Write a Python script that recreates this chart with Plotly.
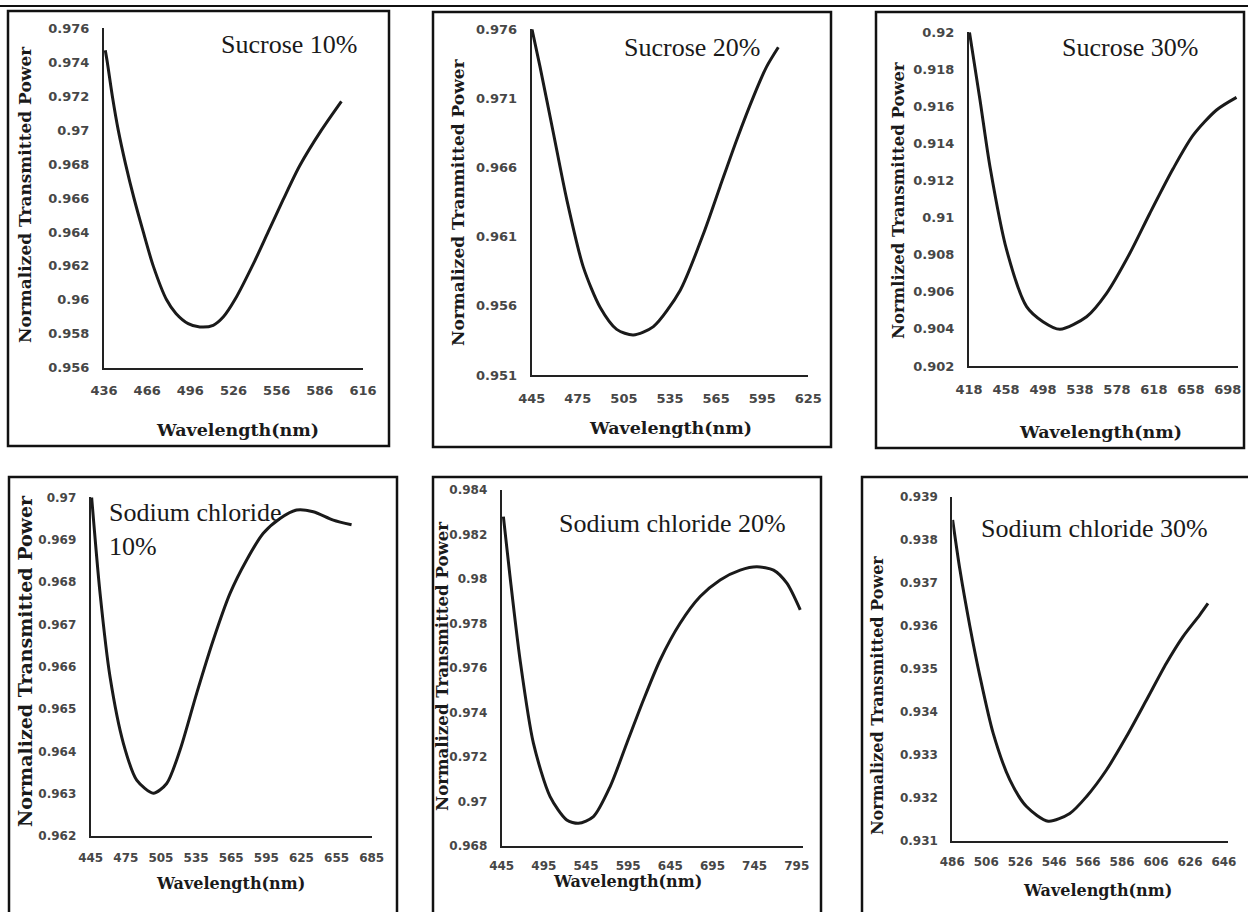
import plotly.graph_objects as go

W, H = 1248, 912

# ---------------- data ----------------
s10_wl = [436.9, 438.3, 441.8, 445.9, 451.0, 456.8, 463.3, 470.2, 479.5, 486.0, 494.5,
          502.6, 511.9, 519.0, 526.9, 540.8, 550.1, 560.5, 572.0, 587.1, 601.0]
s10_tp = [0.9747, 0.9740, 0.9720, 0.9700, 0.9680, 0.9660, 0.9640, 0.9620, 0.9600, 0.9592, 0.9586,
          0.9584, 0.9585, 0.9590, 0.9600, 0.9623, 0.9640, 0.9659, 0.9679, 0.9700, 0.9717]

s20_wl = [445.0, 450.4, 459.1, 467.8, 478.6, 489.5, 500.3, 511.1, 524.2, 541.5, 556.7,
          567.5, 578.4, 589.2, 597.9, 605.5]
s20_tp = [0.9761, 0.9733, 0.9685, 0.9637, 0.9588, 0.9559, 0.9543, 0.9539, 0.9545, 0.9571, 0.9612,
          0.9646, 0.9680, 0.9711, 0.9733, 0.9747]

s30_wl = [418.5, 429.9, 440.7, 458.7, 480.3, 498.0, 516.4, 545.2, 566.8, 592.0, 613.7,
          638.9, 660.5, 685.8, 707.4]
s30_tp = [0.9200, 0.91635, 0.91275, 0.90826, 0.90520, 0.90439, 0.90398, 0.90466, 0.90592, 0.90808,
          0.91024, 0.91265, 0.91445, 0.91581, 0.91649]

n10_wl = [445.8, 453.0, 461.5, 472.9, 484.3, 498.5, 509.9, 521.3, 535.5, 549.7, 564.0,
          578.2, 592.4, 606.7, 620.9, 635.1, 652.2, 667.8]
n10_tp = [0.9700, 0.96773, 0.96576, 0.96419, 0.96332, 0.96301, 0.96324, 0.96403, 0.96537, 0.96663,
          0.96773, 0.96852, 0.96915, 0.96950, 0.96970, 0.96966, 0.96946, 0.96935]

n20_wl = [447.0, 454.9, 466.8, 482.6, 502.4, 522.1, 536.0, 553.8, 573.6, 593.4, 613.1,
          632.9, 656.6, 680.4, 704.1, 727.9, 747.6, 767.4, 783.2, 799.1]
n20_tp = [0.9828, 0.9801, 0.97636, 0.97262, 0.97022, 0.96917, 0.96902, 0.96932, 0.97067, 0.97262,
          0.97456, 0.97636, 0.97801, 0.97921, 0.97996, 0.98040, 0.98055, 0.98040, 0.97981, 0.97861]

n30_wl = [486.2, 490.5, 496.4, 502.3, 510.1, 519.9, 529.7, 542.5, 555.2, 565.0, 576.8,
          588.5, 600.3, 612.1, 621.9, 631.7, 636.6]
n30_tp = [0.93846, 0.93730, 0.93598, 0.93482, 0.93350, 0.93242, 0.93180, 0.93146, 0.93164, 0.93203,
          0.93265, 0.93342, 0.93427, 0.93513, 0.93575, 0.93625, 0.93652]

# tick labels
s10_xt = [436, 466, 496, 526, 556, 586, 616]
s10_yt = ["0.956", "0.958", "0.96", "0.962", "0.964", "0.966", "0.968", "0.97", "0.972", "0.974", "0.976"]
s20_xt = [445, 475, 505, 535, 565, 595, 625]
s20_yt = ["0.951", "0.956", "0.961", "0.966", "0.971", "0.976"]
s30_xt = [418, 458, 498, 538, 578, 618, 658, 698]
s30_yt = ["0.902", "0.904", "0.906", "0.908", "0.91", "0.912", "0.914", "0.916", "0.918", "0.92"]
n10_xt = [445, 475, 505, 535, 565, 595, 625, 655, 685]
n10_yt = ["0.962", "0.963", "0.964", "0.965", "0.966", "0.967", "0.968", "0.969", "0.97"]
n20_xt = [445, 495, 545, 595, 645, 695, 745, 795]
n20_yt = ["0.968", "0.97", "0.972", "0.974", "0.976", "0.978", "0.98", "0.982", "0.984"]
n30_xt = [486, 506, 526, 546, 566, 586, 606, 626, 646]
n30_yt = ["0.931", "0.932", "0.933", "0.934", "0.935", "0.936", "0.937", "0.938", "0.939"]

labels = ["Sucrose 10%", "Sucrose 20%", "Sucrose 30%",
          "Sodium chloride<br>10%", "Sodium chloride 20%", "Sodium chloride 30%"]
ytitles = ["Normalized Transmitted Power", "Normalized Tranmitted Power", "Normlized Transmitted Power",
           "Normalized Transmitted Power", "Normalized Transmitted Power", "Normalized Transmitted Power"]
xtitle = "Wavelength(nm)"

# ---------------- layout spec (pixels) ----------------
panels = [
    dict(wl=s10_wl, tp=s10_tp, xt=s10_xt, yt=s10_yt, xpx=(104, 363), xr=(436, 616), ypx=(28.3, 367.7),
         box=(8, 11, 389, 446), lab=(289, 45, "center"), yti=(25, 195, 17), xti=(237, 430, 17.5), tf=13, so=10),
    dict(wl=s20_wl, tp=s20_tp, xt=s20_xt, yt=s20_yt, xpx=(531.7, 808.3), xr=(445, 625), ypx=(29.3, 375),
         box=(433, 12, 831, 447), lab=(692, 47, "center"), yti=(458, 202, 17), xti=(670, 428, 17.5), tf=13, so=10),
    dict(wl=s30_wl, tp=s30_tp, xt=s30_xt, yt=s30_yt, xpx=(969, 1238), xr=(418, 709), ypx=(32.3, 366),
         box=(876, 12, 1244, 448), lab=(1130, 48, "center"), yti=(898, 201, 16.5), xti=(1100, 432, 17.5), tf=13, so=10),
    dict(wl=n10_wl, tp=n10_tp, xt=n10_xt, yt=n10_yt, xpx=(90.7, 371.7), xr=(445, 685), ypx=(497.3, 836),
         box=(9, 477, 397, 916), lab=(107, 529, "left"), yti=(25, 661, 19), xti=(230, 883, 16), tf=12, so=10),
    dict(wl=n20_wl, tp=n20_tp, xt=n20_xt, yt=n20_yt, xpx=(501.7, 802.7), xr=(445, 802), ypx=(490, 846),
         box=(433, 477, 821, 916), lab=(672, 523, "center"), yti=(442, 667, 16.6), xti=(627, 881, 16), tf=12, so=8),
    dict(wl=n30_wl, tp=n30_tp, xt=n30_xt, yt=n30_yt, xpx=(952.3, 1228), xr=(486, 648.4), ypx=(496.7, 841),
         box=(862, 477, 1254, 916), lab=(1094, 528, "center"), yti=(877, 695, 16), xti=(1097, 890, 16), tf=12, so=9),
]

fig = go.Figure()
shapes = []
annotations = []
layout = {}


def fx(p):
    return p / W


def fy(p):
    return 1 - p / H


for i, p in enumerate(panels, start=1):
    sx = "" if i == 1 else str(i)
    fig.add_trace(go.Scatter(x=p["wl"], y=p["tp"], mode="lines", xaxis="x" + sx, yaxis="y" + sx,
                             line=dict(color="#1a1a1a", width=3, shape="spline", smoothing=0.75),
                             showlegend=False, hoverinfo="skip"))
    yvals = [float(v) for v in p["yt"]]
    tickfont = dict(family="DejaVu Sans", size=p["tf"], color="#474747", weight="bold")
    layout["xaxis" + sx] = dict(domain=[fx(p["xpx"][0]), fx(p["xpx"][1])], range=list(p["xr"]),
                               anchor="y" + sx, showline=True, linecolor="#222222", linewidth=2,
                               showgrid=False, zeroline=False, ticks="", tickvals=p["xt"],
                               ticktext=[str(v) for v in p["xt"]], tickfont=tickfont,
                               ticklabelstandoff=p["so"], fixedrange=True, automargin=False)
    layout["yaxis" + sx] = dict(domain=[fy(p["ypx"][1]), fy(p["ypx"][0])], range=[yvals[0], yvals[-1]],
                               anchor="x" + sx, showline=True, linecolor="#222222", linewidth=2,
                               showgrid=False, zeroline=False, ticks="", tickvals=yvals,
                               ticktext=p["yt"], tickfont=tickfont, ticklabelstandoff=10, fixedrange=True,
                               automargin=False)
    b = p["box"]
    shapes.append(dict(type="rect", xref="paper", yref="paper", x0=fx(b[0]), y0=fy(b[3]), x1=fx(b[2]), y1=fy(b[1]),
                       line=dict(color="#111111", width=2.5), fillcolor="rgba(0,0,0,0)", layer="above"))
    lx, ly, align = p["lab"]
    annotations.append(dict(xref="paper", yref="paper", x=fx(lx), y=fy(ly), text=labels[i - 1],
                            showarrow=False, xanchor=align, yanchor="middle", align="left",
                            font=dict(family="Liberation Serif", size=26, color="#1a1a1a")))
    tx, ty, ts = p["yti"]
    annotations.append(dict(xref="paper", yref="paper", x=fx(tx), y=fy(ty), text="<b>" + ytitles[i - 1] + "</b>",
                            showarrow=False, textangle=-90, xanchor="center", yanchor="middle",
                            font=dict(family="DejaVu Serif", size=ts, color="#1a1a1a")))
    wx, wy, ws = p["xti"]
    annotations.append(dict(xref="paper", yref="paper", x=fx(wx), y=fy(wy), text="<b>" + xtitle + "</b>",
                            showarrow=False, xanchor="center", yanchor="middle",
                            font=dict(family="DejaVu Serif", size=ws, color="#1a1a1a")))

shapes.append(dict(type="line", xref="paper", yref="paper", x0=0, x1=1, y0=fy(6), y1=fy(6),
                   line=dict(color="#111111", width=2)))

fig.update_layout(width=W, height=H, margin=dict(l=0, r=0, t=0, b=0, pad=0, autoexpand=False), autosize=False,
                  paper_bgcolor="white", plot_bgcolor="white", showlegend=False,
                  shapes=shapes, annotations=annotations, **layout)

fig.write_html("out.html", config={"displayModeBar": False},
               post_script="document.body.style.margin='0';document.body.style.overflow='hidden';")
